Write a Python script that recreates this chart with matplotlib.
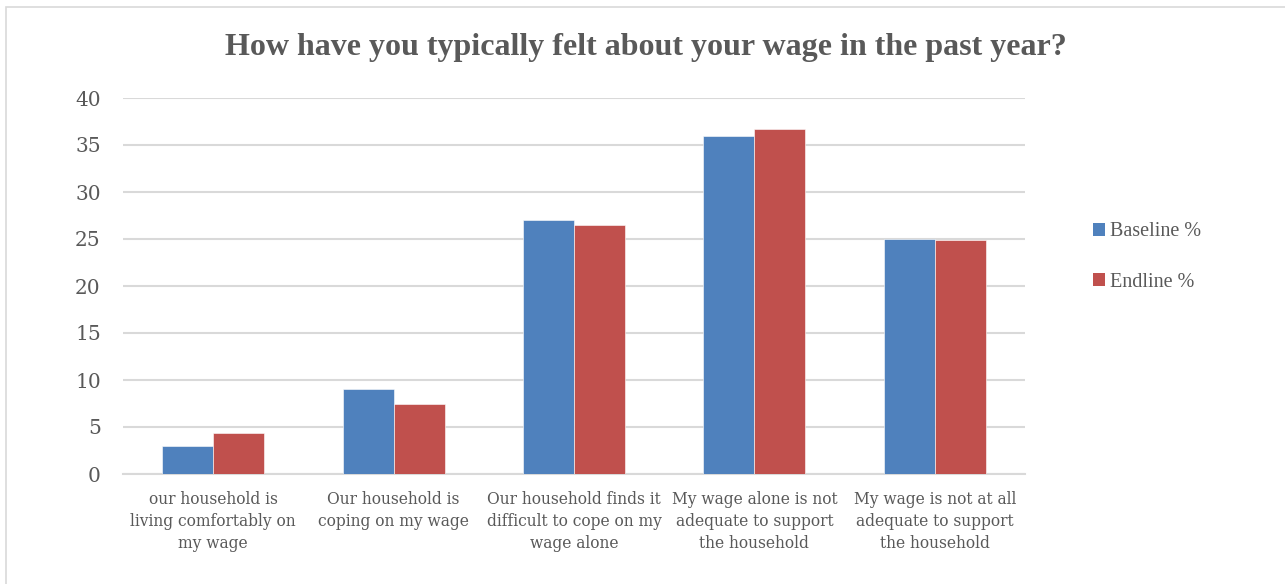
import matplotlib
matplotlib.use("Agg")
import matplotlib.pyplot as plt
from matplotlib.patches import Rectangle, Patch
import numpy as np

categories = [
    "our household is\nliving comfortably on\nmy wage",
    "Our household is\ncoping on my wage",
    "Our household finds it\ndifficult to cope on my\nwage alone",
    "My wage alone is not\nadequate to support\nthe household",
    "My wage is not at all\nadequate to support\nthe household",
]
baseline = [3.0, 9.0, 27.0, 36.0, 25.0]
endline = [4.35, 7.5, 26.45, 36.75, 24.9]
series_names = ["Baseline %", "Endline %"]
yticks = [0, 5, 10, 15, 20, 25, 30, 35, 40]

W, H = 1285, 584
fig = plt.figure(figsize=(W / 100, H / 100), dpi=100)
fig.patch.set_facecolor("white")

# outer chart border
fig.add_artist(Rectangle((6 / W, -0.05), 1.1, 1 - 7 / H + 0.05, transform=fig.transFigure,
                         fill=False, edgecolor="#d9d9d9", linewidth=1.2))

ax = fig.add_axes([123 / W, 1 - 474 / H, (1025 - 123) / W, (474 - 98) / H])
x = np.arange(len(categories))
bw = 0.283
blue = "#4f81bd"
red = "#c0504d"
ax.bar(x - bw / 2, baseline, bw, color=blue, edgecolor="white", linewidth=0.4, zorder=3)
ax.bar(x + bw / 2, endline, bw, color=red, edgecolor="white", linewidth=0.4, zorder=3)

ax.set_xlim(-0.5, len(categories) - 0.5)
ax.set_ylim(0, 40)
ax.set_yticks(yticks)
ax.yaxis.grid(True, color="#d9d9d9", linewidth=1.5, zorder=0)
ax.set_axisbelow(True)
for s in ["top", "right", "left"]:
    ax.spines[s].set_visible(False)
ax.spines["bottom"].set_color("#d9d9d9")
ax.spines["bottom"].set_linewidth(1.5)
ax.tick_params(axis="both", length=0, colors="#595959")
ax.set_yticklabels([str(v) for v in yticks], fontfamily="DejaVu Serif", fontsize=14.5, color="#595959")
ax.tick_params(axis="y", pad=16)
ax.set_xticks(x)
ax.set_xticklabels(categories, fontfamily="DejaVu Serif", fontsize=11.2, color="#595959",
                   linespacing=1.38)
ax.tick_params(axis="x", pad=12)

fig.text(0.5 * (228 + 1064) / W, 1 - 48 / H, "How have you typically felt about your wage in the past year?",
         ha="center", va="center", fontfamily="Liberation Serif", fontweight="bold",
         fontsize=23, color="#595959")

handles = [Patch(facecolor=blue, edgecolor="none"), Patch(facecolor=red, edgecolor="none")]
leg = fig.legend(handles, series_names, loc="center left", bbox_to_anchor=(1075 / W, 1 - 257 / H),
                 frameon=False, prop={"family": "Liberation Serif", "size": 14.5},
                 handlelength=0.6, handleheight=0.6, handletextpad=0.25, labelspacing=1.55)
for t in leg.get_texts():
    t.set_color("#595959")

fig.savefig("out.png", dpi=100, facecolor="white")
